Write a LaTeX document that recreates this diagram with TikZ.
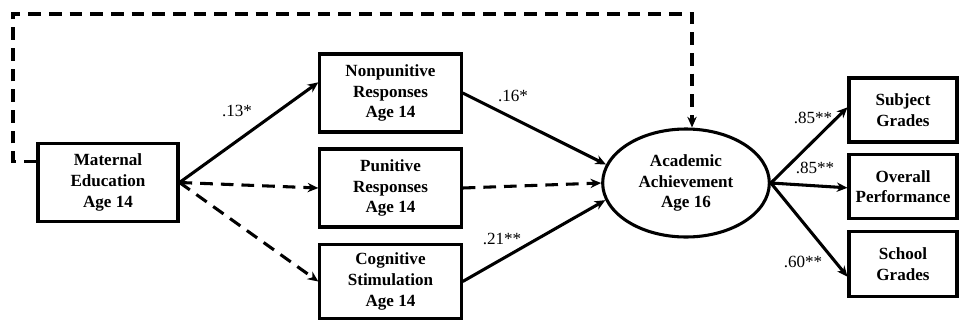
\documentclass[tikz,border=0pt]{standalone}
\usepackage{fontspec}
\setmainfont{Liberation Serif}
\usetikzlibrary{arrows.meta,positioning,calc,shapes.geometric}

\begin{document}
\begin{tikzpicture}[>={Stealth[length=8pt,width=7pt]},x=0.75pt,y=-0.75pt,
  every node/.style={inner sep=0pt},
  box/.style={draw,line width=2.3pt,align=center,font=\fontsize{12.8}{15.5}\selectfont\bfseries},
  latent/.style={ellipse,draw,line width=2.3pt,align=center,font=\fontsize{12.8}{15.5}\selectfont\bfseries},
  sig/.style={->,line width=2.3pt},
  ns/.style={->,line width=2.3pt,dash pattern=on 9.5pt off 6pt},
  coef/.style={font=\fontsize{12.8}{15}\selectfont}]
\useasboundingbox (0,0) rectangle (960,322);
% predictor and mediators
\node[box,minimum width=105pt,minimum height=58pt] (med) at (108,182.5) {Maternal\\Education\\Age 14};
\node[box,minimum width=106pt,minimum height=58.5pt] (nonp) at (390.5,93) {Nonpunitive\\Responses\\Age 14};
\node[box,minimum width=106pt,minimum height=58.5pt] (pun) at (390.5,188) {Punitive\\Responses\\Age 14};
\node[box,minimum width=106pt,minimum height=56pt] (cog) at (390.5,281.5) {Cognitive\\Stimulation\\Age 14};
% outcome and indicators
\node[latent,minimum width=125pt,minimum height=81pt] (ach) at (686,183) {Academic\\Achievement\\Age 16};
\node[box,minimum width=81pt,minimum height=48pt] (subj) at (903,110) {Subject\\Grades};
\node[box,minimum width=81pt,minimum height=48.5pt] (over) at (903,186.5) {Overall\\Performance};
\node[box,minimum width=81pt,minimum height=49pt] (school) at (903,264) {School\\Grades};
% direct path
\coordinate (tl) at (13,14);
\coordinate (tr) at (692,14);
\draw[ns] ([yshift=16pt]med.west) -| (tl) -- (tr) -- ([xshift=4.5pt]ach.north);
% paths
\draw[sig] (med.east) -- ([yshift=8pt]nonp.west);
\draw[ns] (med.east) -- (pun.west);
\draw[ns] (med.east) -- (cog.west);
\draw[sig] (nonp.east) -- (ach.167);
\draw[ns] (pun.east) -- (ach.west);
\draw[sig] (cog.east) -- (ach.192);
\draw[sig] (ach.east) -- ([yshift=2pt]subj.west);
\draw[sig] (ach.east) -- ([yshift=-1pt]over.west);
\draw[sig] (ach.east) -- ([yshift=-9.5pt]school.west);
% coefficients
\node[coef] (c1) at (237,111) {.13*};
\node[coef] (c2) at (513,96) {.16*};
\node[coef] (c3) at (502,239) {.21**};
\node[coef] (c4) at (813,118) {.85**};
\node[coef] (c5) at (815,168) {.85**};
\node[coef] (c6) at (803,262) {.60**};
\end{tikzpicture}
\end{document}
